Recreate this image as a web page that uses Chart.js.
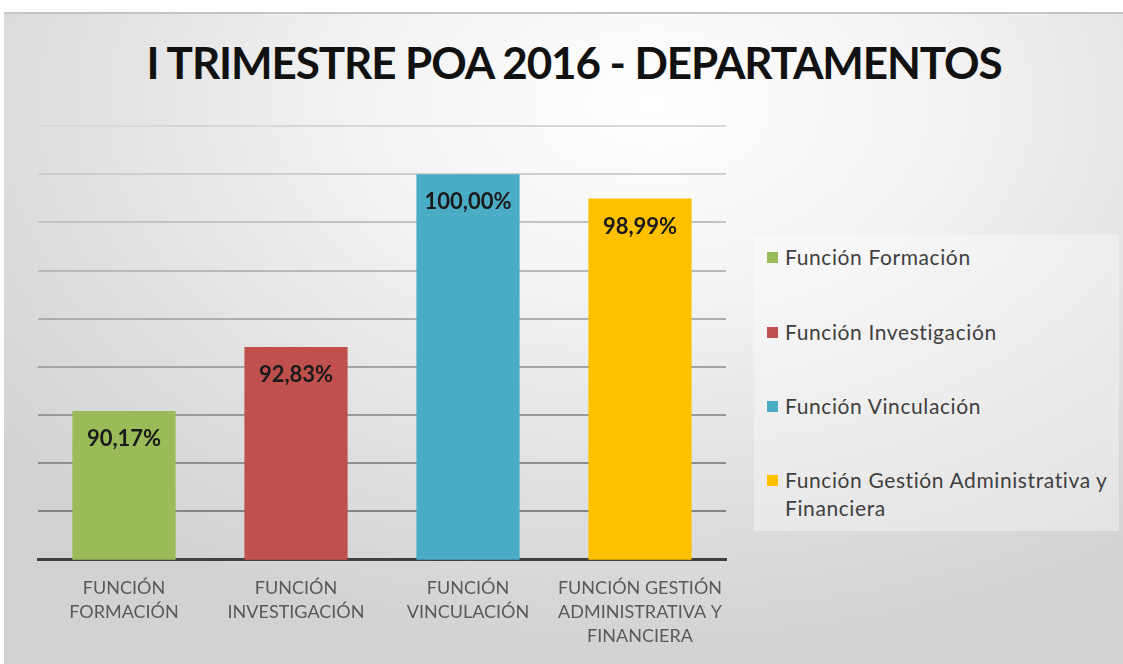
<!DOCTYPE html>
<html>
<head>
<meta charset="utf-8">
<script src="https://cdn.jsdelivr.net/npm/chart.js@4"></script>
<style>
html,body{margin:0;padding:0;width:1123px;height:664px;overflow:hidden;background:#fff;}
#frame{position:absolute;left:4px;top:12px;right:0;bottom:0;
 background:radial-gradient(ellipse 75% 85% at 58% 14%, #ffffff 0%, #f3f3f3 35%, #e0e0e0 70%, #d2d2d2 100%);
 border-top:2px solid #c4c4c4;}
#title{position:absolute;left:0;width:1148px;top:36px;text-align:center;font-family:Lato,"Open Sans",sans-serif;font-weight:bold;font-size:44px;color:#111;letter-spacing:-1.1px;}
#legend{position:absolute;left:754px;top:235px;width:365px;height:296px;background:rgba(255,255,255,0.35);
 font-family:Lato,"Open Sans",sans-serif;font-size:21px;letter-spacing:0.6px;color:#404040;}
.item{position:absolute;left:13px;width:330px;line-height:28px;padding-left:18px;}
.sw{position:absolute;left:0;top:9px;width:11px;height:11px;}
canvas{position:absolute;left:0;top:0;}
</style>
</head>
<body>
<div id="frame"></div>
<div id="title">I TRIMESTRE POA 2016 - DEPARTAMENTOS</div>
<div id="legend"></div>
<canvas id="c" width="1123" height="664"></canvas>
<script>
const categories = [
  ["FUNCIÓN","FORMACIÓN"],
  ["FUNCIÓN","INVESTIGACIÓN"],
  ["FUNCIÓN","VINCULACIÓN"],
  ["FUNCIÓN GESTIÓN","ADMINISTRATIVA Y","FINANCIERA"]
];
const legendNames = ["Función Formación","Función Investigación","Función Vinculación","Función Gestión Administrativa y Financiera"];
const values = [90.17, 92.83, 100.00, 98.99];
const valueLabels = ["90,17%","92,83%","100,00%","98,99%"];
const colors = ["#9BBB59","#C0504D","#4BACC6","#FFC000"];

// HTML legend
const lg = document.getElementById('legend');
const rowTops = [8, 83, 157, 231];
legendNames.forEach((n,i)=>{
  const d=document.createElement('div');
  d.className='item';
  d.style.top=rowTops[i]+'px';
  d.innerHTML='<span class="sw" style="background:'+colors[i]+'"></span>'+n;
  lg.appendChild(d);
});

const labelPlugin = {
  id:'valueLabels',
  afterDatasetsDraw(chart){
    const ctx=chart.ctx;
    const meta=chart.getDatasetMeta(0);
    ctx.save();
    ctx.font='bold 22px Lato, "Open Sans", sans-serif';
    ctx.fillStyle='#1a1a1a';
    ctx.textAlign='center';
    ctx.textBaseline='middle';
    meta.data.forEach((bar,i)=>{
      ctx.fillText(valueLabels[i], bar.x, bar.y+28);
    });
    ctx.restore();
  }
};

function gridColor(ctx){
  const v = ctx.tick ? ctx.tick.value : 94;
  const t = Math.max(0, Math.min(1, (v-86)/16));
  const c = Math.round(0x84 + t*(0xd8-0x84));
  return 'rgb('+c+','+c+','+c+')';
}

new Chart(document.getElementById('c'),{
  type:'bar',
  data:{labels:categories,datasets:[{data:values,backgroundColor:colors,borderWidth:0,categoryPercentage:0.6,barPercentage:1}]},
  options:{
    responsive:false,animation:false,
    layout:{padding:{left:38,right:397,top:126,bottom:0}},
    plugins:{legend:{display:false},tooltip:{enabled:false},title:{display:false}},
    scales:{
      x:{grid:{display:false,drawTicks:false},
         border:{display:true,color:'#404040',width:3},
         ticks:{color:'#595959',padding:16,font:{family:'Lato, "Open Sans", sans-serif',size:18,lineHeight:1.34}}},
      y:{min:84,max:102,ticks:{stepSize:2,display:false},
         grid:{color:gridColor,lineWidth:2,drawTicks:false},
         border:{display:false}}
    }
  },
  plugins:[labelPlugin]
});
</script>
</body>
</html>
